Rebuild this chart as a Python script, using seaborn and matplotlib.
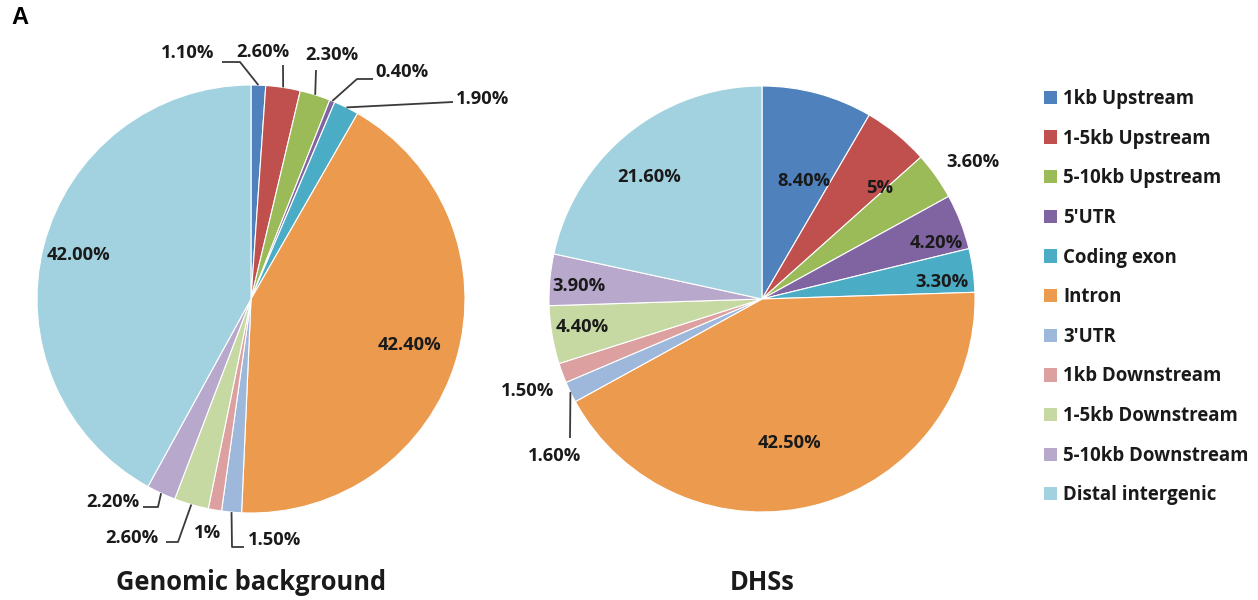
import matplotlib
matplotlib.use("Agg")
import matplotlib.pyplot as plt
import numpy as np
import seaborn as sns
from matplotlib.patches import Patch

# ---- data -------------------------------------------------------------
categories = ["1kb Upstream", "1-5kb Upstream", "5-10kb Upstream", "5'UTR",
              "Coding exon", "Intron", "3'UTR", "1kb Downstream",
              "1-5kb Downstream", "5-10kb Downstream", "Distal intergenic"]
genomic_pct = [1.1, 2.6, 2.3, 0.4, 1.9, 42.4, 1.5, 1.0, 2.6, 2.2, 42.0]
dhs_pct = [8.4, 5.0, 3.6, 4.2, 3.3, 42.5, 1.6, 1.5, 4.4, 3.9, 21.6]
genomic_labels = ["1.10%", "2.60%", "2.30%", "0.40%", "1.90%", "42.40%",
                  "1.50%", "1%", "2.60%", "2.20%", "42.00%"]
dhs_labels = ["8.40%", "5%", "3.60%", "4.20%", "3.30%", "42.50%",
              "1.60%", "1.50%", "4.40%", "3.90%", "21.60%"]
panel_titles = ["Genomic background", "DHSs"]

colors = ["#4F81BD", "#C0504D", "#9BBB59", "#8064A2", "#4BACC6", "#EB9A4E",
          "#9DB8DB", "#DBA09F", "#C6D9A3", "#B8A8CC", "#A2D2DF"]

# ---- styling ----------------------------------------------------------
sns.set_theme(style="white")
FAMILY = ["Open Sans", "DejaVu Sans"]
plt.rcParams["font.family"] = FAMILY
TXT = "#1a1a1a"
LINE = "#3a3a3a"

W, H = 1258, 600
fig = plt.figure(figsize=(W / 100, H / 100), dpi=100)
ax = fig.add_axes([0, 0, 1, 1])
palette = sns.color_palette(colors)


def P(x, y):
    """Layout point given from the top-left corner of the canvas."""
    return (x, H - y)


# pie geometry (top-left layout coordinates)
pies = [
    dict(center=(251, 299), r=214, values=genomic_pct, labels=genomic_labels,
         # index -> ("polar", radius fraction, angle nudge) or ("leader", text xy, via points)
         place={
             0: ("leader", (188, 53), [(240, 62), (222, 62)]),
             1: ("leader", (263, 52), [(283, 65)]),
             2: ("leader", (332, 55), [(316, 70)]),
             3: ("leader", (402, 72), [(357, 79), (373, 79)]),
             4: ("leader", (483, 99), [(453, 102)]),
             5: ("polar", 0.77, 0.0),
             6: ("leader", (275, 540), [(232, 547), (244, 547)]),
             7: ("polar", 1.11, -0.8),
             8: ("leader", (132, 538), [(178, 542), (166, 542)]),
             9: ("leader", (113, 502), [(158, 507), (143, 507)]),
             10: ("polar", 0.83, 0.0),
         }),
    dict(center=(762, 299), r=213, values=dhs_pct, labels=dhs_labels,
         place={
             0: ("polar", 0.59, -4.4),
             1: ("polar", 0.76, -7.3),
             2: ("polar", 1.18, -2.2),
             3: ("polar", 0.86, -3.5),
             4: ("polar", 0.85, -2.3),
             5: ("polar", 0.69, -4.7),
             6: ("leader", (555, 456), [(570, 438)]),
             7: ("polar", 1.18, 1.1),
             8: ("polar", 0.855, -0.9),
             9: ("polar", 0.86, 1.1),
             10: ("polar", 0.78, 4.1),
         }),
]

label_font = dict(fontsize=13.2, fontweight="bold", color=TXT)

for pie in pies:
    cx, cy = P(*pie["center"])
    r = pie["r"]
    vals = np.asarray(pie["values"], dtype=float)
    ax.pie(vals, colors=palette, startangle=90, counterclock=False,
           center=(cx, cy), radius=r, normalize=True,
           wedgeprops=dict(edgecolor="white", linewidth=0.8))
    cum = np.cumsum(vals) / vals.sum()
    mids = 90 - 360 * (cum - vals / vals.sum() / 2)
    for i, lab in enumerate(pie["labels"]):
        spec = pie["place"][i]
        th = np.deg2rad(mids[i])
        if spec[0] == "polar":
            rf, nudge = spec[1], spec[2]
            a = np.deg2rad(mids[i] + nudge)
            ax.text(cx + rf * r * np.cos(a), cy + rf * r * np.sin(a), lab,
                    ha="center", va="center", **label_font)
        else:
            txy, via = spec[1], spec[2]
            pts = [(cx + r * np.cos(th), cy + r * np.sin(th))] + [P(*v) for v in via]
            xs, ys = zip(*pts)
            ax.plot(xs, ys, color=LINE, lw=1.3, solid_capstyle="butt")
            ax.text(*P(*txy), lab, ha="center", va="center", **label_font)

for pie, title in zip(pies, panel_titles):
    ax.text(*P(pie["center"][0], 582), title, ha="center", va="center",
            fontsize=18.4, fontweight="bold", color=TXT)

ax.text(*P(20, 18), "A", ha="center", va="center", fontsize=17,
        fontweight="bold", color="black", family=["Liberation Sans", "DejaVu Sans"])

handles = [Patch(facecolor=c, edgecolor="none") for c in palette]
ax.legend(handles, categories, loc="upper left",
          bbox_to_anchor=(1044 / W, 1 - 89 / H), bbox_transform=fig.transFigure,
          frameon=False, borderpad=0, borderaxespad=0,
          handlelength=0.72, handleheight=0.72, handletextpad=0.3,
          labelspacing=1.055, prop=dict(family=FAMILY, weight="bold", size=13.4),
          labelcolor=TXT)

ax.set_xlim(0, W)
ax.set_ylim(0, H)
ax.set_aspect("equal")
ax.axis("off")

fig.savefig("out.png", dpi=100, facecolor="white")
